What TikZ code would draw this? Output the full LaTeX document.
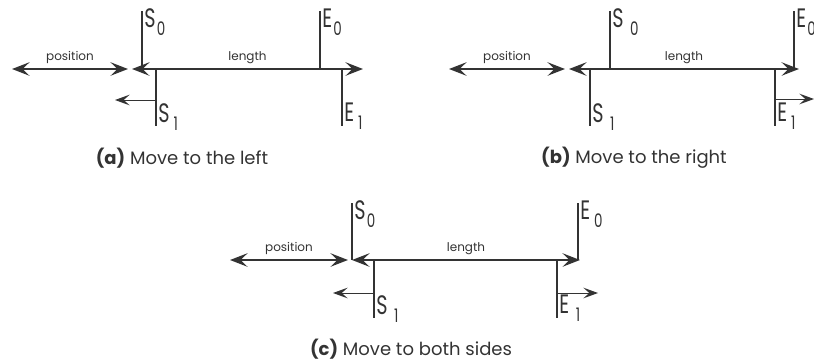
\documentclass[tikz,border=0pt]{standalone}
\usepackage{fontspec}
\setmainfont{Poppins}
\newfontfamily\tagfont[FakeStretch=0.72]{Poppins}
\usetikzlibrary{arrows.meta, positioning}
\newcommand\idx[1]{\kern1pt\raisebox{-0.3em}{\fontsize{14}{14}\selectfont#1}}

\begin{document}
\begin{tikzpicture}[x=0.75pt, y=-0.75pt, text=black!80,
  bar/.style={line width=2.2pt, draw=black!80},
  span/.style={line width=2pt, draw=black!80, {Stealth[length=13pt,width=10pt,inset=5pt]}-{Stealth[length=13pt,width=10pt,inset=5pt]}},
  move/.style={line width=0.7pt, draw=black!80, -{Stealth[length=11pt,width=8pt,inset=4.5pt]}},
  tag/.style={font=\tagfont\fontsize{20}{20}\selectfont, anchor=north west, inner sep=0pt, xshift=1.5pt, yshift=2pt},
  note/.style={font=\fontsize{9}{9}\selectfont, above, inner sep=3pt},
  caption/.style={font=\fontsize{13.5}{14}\selectfont}]
  \useasboundingbox (0,0) rectangle (814,362);

  % (a) move to the left
  \coordinate (aP1) at (12,69);  \coordinate (aP2) at (128,69);
  \coordinate (aL1) at (132,69); \coordinate (aL2) at (363,69);
  \coordinate (aS0) at (142,11); \coordinate (aS1) at (156,126);
  \coordinate (aE0) at (320,11); \coordinate (aE1) at (342,126);
  \coordinate (aM) at (115,100);
  \draw[span] (aP1) -- node[note]{position} (aP2);
  \draw[span] (aL1) -- node[note]{length} (aL2);
  \draw[bar] (aS0) -- (aS0 |- aL1);
  \draw[bar] (aE0) -- (aE0 |- aL1);
  \draw[bar] (aS1 |- aL1) -- (aS1);
  \draw[bar] (aE1 |- aL1) -- (aE1);
  \draw[move] (aS1 |- aM) -- (aM);
  \node[tag] (aS0t) at (aS0) {S\idx{0}};
  \node[tag] (aE0t) at (aE0) {E\idx{0}};
  \node[tag] (aS1t) at ([yshift=-71pt]aS0 -| aS1) {S\kern2pt\idx{1}};
  \node[tag] (aE1t) at ([yshift=-71pt]aE0 -| aE1) {E\kern2pt\idx{1}};
  \node[caption] (acap) at (182,158) {\textbf{(a)} Move to the left};

  % (b) move to the right
  \coordinate (bP1) at (449,69); \coordinate (bP2) at (565,69);
  \coordinate (bL1) at (569,69); \coordinate (bL2) at (799,69);
  \coordinate (bS0) at (610,11); \coordinate (bS1) at (590,126);
  \coordinate (bE0) at (794,11); \coordinate (bE1) at (775,126);
  \coordinate (bM) at (814,99);
  \draw[span] (bP1) -- node[note]{position} (bP2);
  \draw[span] (bL1) -- node[note]{length} (bL2);
  \draw[bar] (bS0) -- (bS0 |- bL1);
  \draw[bar] (bE0) -- (bE0 |- bL1);
  \draw[bar] (bS1 |- bL1) -- (bS1);
  \draw[bar] (bE1 |- bL1) -- (bE1);
  \draw[move] (bE1 |- bM) -- (bM);
  \node[tag] (bS0t) at (bS0) {S\kern4pt\idx{0}};
  \node[tag] (bE0t) at (bE0) {E\idx{0}};
  \node[tag] (bS1t) at ([yshift=-71pt]bS0 -| bS1) {S\kern4pt\idx{1}};
  \node[tag] (bE1t) at ([yshift=-71pt]bE0 -| bE1) {E\kern2pt\idx{1}};
  \node[caption] (bcap) at (634,158) {\textbf{(b)} Move to the right};

  % (c) move to both sides
  \coordinate (cP1) at (230,260); \coordinate (cP2) at (348,260);
  \coordinate (cL1) at (352,260); \coordinate (cL2) at (580,260);
  \coordinate (cS0) at (352,203); \coordinate (cS1) at (374,318);
  \coordinate (cE0) at (578,203); \coordinate (cE1) at (557,318);
  \coordinate (cM1) at (333,293); \coordinate (cM2) at (598,293);
  \draw[span] (cP1) -- node[note]{position} (cP2);
  \draw[span] (cL1) -- node[note]{length} (cL2);
  \draw[bar] (cS0) -- (cS0 |- cL1);
  \draw[bar] (cE0) -- (cE0 |- cL1);
  \draw[bar] (cS1 |- cL1) -- (cS1);
  \draw[bar] (cE1 |- cL1) -- (cE1);
  \draw[move] (cS1 |- cM1) -- (cM1);
  \draw[move] (cE1 |- cM2) -- (cM2);
  \node[tag] (cS0t) at (cS0) {S\idx{0}};
  \node[tag] (cE0t) at (cE0) {E\kern2pt\idx{0}};
  \node[tag] (cS1t) at ([yshift=-71pt]cS0 -| cS1) {S\kern4pt\idx{1}};
  \node[tag] (cE1t) at ([yshift=-71pt]cE0 -| cE1) {E\kern4pt\idx{1}};
  \node[caption] (ccap) at (411,349) {\textbf{(c)} Move to both sides};
\end{tikzpicture}
\end{document}
